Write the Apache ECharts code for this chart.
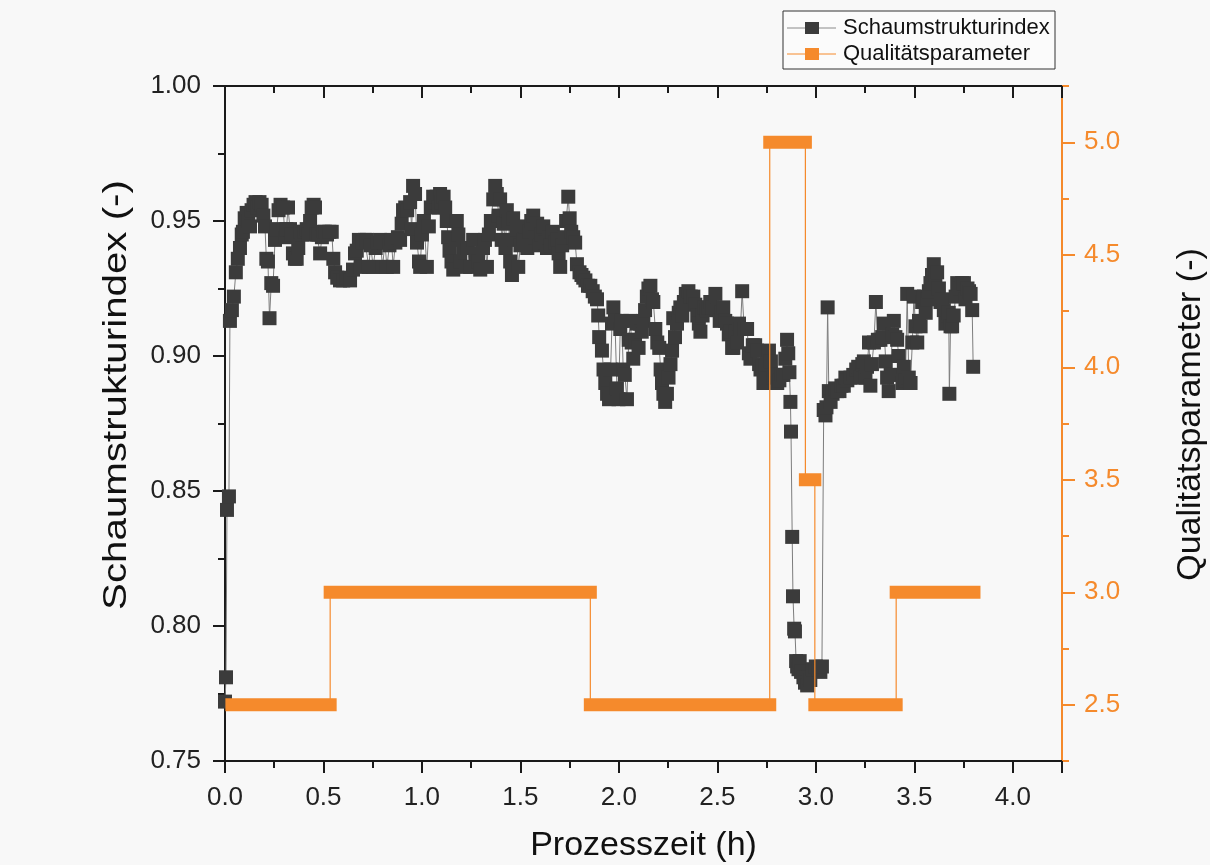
<!DOCTYPE html>
<html>
<head>
<meta charset="utf-8">
<script src="https://cdn.jsdelivr.net/npm/echarts@6/dist/echarts.min.js"></script>
<style>
  html, body { margin: 0; padding: 0; background: #f8f8f8; overflow: hidden; }
  #chart { width: 1210px; height: 865px; }
</style>
</head>
<body>
<div id="chart"></div>
<script>
// Prozesszeit (h) der Messpunkte
const timeH = [
  0.000, 0.005, 0.010, 0.020, 0.025, 0.035, 0.045, 0.055, 0.065, 0.076,
  0.085, 0.091, 0.100, 0.110, 0.118, 0.127, 0.135, 0.145, 0.155, 0.165,
  0.175, 0.186, 0.195, 0.203, 0.210, 0.218, 0.226, 0.235, 0.244, 0.254,
  0.262, 0.272, 0.282, 0.295, 0.305, 0.312, 0.320, 0.330, 0.338, 0.345,
  0.355, 0.364, 0.372, 0.381, 0.392, 0.403, 0.415, 0.425, 0.432, 0.440,
  0.450, 0.457, 0.466, 0.475, 0.483, 0.492, 0.500, 0.508, 0.518, 0.530,
  0.542, 0.550, 0.559, 0.570, 0.584, 0.600, 0.618, 0.635, 0.650, 0.660,
  0.669, 0.680, 0.690, 0.700, 0.710, 0.720, 0.730, 0.740, 0.752, 0.765,
  0.775, 0.788, 0.800, 0.812, 0.822, 0.835, 0.845, 0.854, 0.865, 0.878,
  0.889, 0.897, 0.904, 0.915, 0.925, 0.940, 0.948, 0.955, 0.965, 0.975,
  0.985, 0.991, 1.000, 1.010, 1.025, 1.035, 1.045, 1.057, 1.065, 1.075,
  1.085, 1.092, 1.100, 1.110, 1.118, 1.126, 1.133, 1.140, 1.150, 1.159,
  1.168, 1.177, 1.185, 1.195, 1.209, 1.220, 1.230, 1.245, 1.260, 1.272,
  1.285, 1.296, 1.310, 1.320, 1.330, 1.340, 1.350, 1.362, 1.372, 1.380,
  1.390, 1.397, 1.405, 1.415, 1.424, 1.431, 1.440, 1.448, 1.457, 1.463,
  1.472, 1.480, 1.489, 1.500, 1.514, 1.525, 1.535, 1.545, 1.555, 1.565,
  1.575, 1.585, 1.595, 1.605, 1.616, 1.625, 1.635, 1.645, 1.655, 1.665,
  1.676, 1.686, 1.694, 1.702, 1.712, 1.722, 1.732, 1.743, 1.750, 1.758,
  1.768, 1.778, 1.787, 1.800, 1.810, 1.819, 1.830, 1.843, 1.855, 1.867,
  1.878, 1.889, 1.895, 1.900, 1.914, 1.922, 1.931, 1.940, 1.950, 1.958,
  1.965, 1.972, 1.980, 1.990, 1.998, 2.007, 2.015, 2.022, 2.030, 2.041,
  2.050, 2.058, 2.065, 2.073, 2.082, 2.092, 2.100, 2.108, 2.116, 2.124,
  2.133, 2.142, 2.150, 2.160, 2.168, 2.175, 2.185, 2.195, 2.205, 2.212,
  2.219, 2.226, 2.235, 2.244, 2.252, 2.262, 2.270, 2.276, 2.285, 2.295,
  2.304, 2.312, 2.322, 2.330, 2.340, 2.353, 2.365, 2.378, 2.388, 2.398,
  2.406, 2.414, 2.425, 2.435, 2.446, 2.455, 2.464, 2.475, 2.490, 2.500,
  2.512, 2.522, 2.530, 2.540, 2.549, 2.558, 2.566, 2.575, 2.581, 2.590,
  2.600, 2.610, 2.617, 2.626, 2.636, 2.651, 2.660, 2.668, 2.680, 2.692,
  2.702, 2.712, 2.719, 2.728, 2.734, 2.745, 2.752, 2.762, 2.772, 2.785,
  2.795, 2.804, 2.815, 2.825, 2.835, 2.845, 2.854, 2.860, 2.866, 2.871,
  2.874, 2.880, 2.884, 2.890, 2.894, 2.900, 2.905, 2.912, 2.918, 2.925,
  2.937, 2.945, 2.956, 2.965, 2.972, 2.985, 3.000, 3.012, 3.023, 3.031,
  3.040, 3.049, 3.054, 3.060, 3.066, 3.075, 3.085, 3.098, 3.108, 3.120,
  3.130, 3.142, 3.150, 3.160, 3.176, 3.190, 3.205, 3.215, 3.227, 3.236,
  3.244, 3.252, 3.260, 3.270, 3.277, 3.285, 3.295, 3.305, 3.315, 3.328,
  3.337, 3.345, 3.355, 3.362, 3.370, 3.380, 3.388, 3.396, 3.404, 3.413,
  3.421, 3.430, 3.440, 3.447, 3.455, 3.464, 3.472, 3.481, 3.490, 3.498,
  3.506, 3.515, 3.524, 3.532, 3.540, 3.549, 3.558, 3.566, 3.574, 3.582,
  3.590, 3.599, 3.607, 3.616, 3.625, 3.633, 3.641, 3.650, 3.658, 3.667,
  3.675, 3.678, 3.684, 3.692, 3.700, 3.710, 3.718, 3.727, 3.735, 3.743,
  3.752, 3.760, 3.770, 3.778, 3.786, 3.794, 3.799
]

// Schaumstrukturindex (-)
const schaumIndex = [
  0.772, 0.781, 0.843, 0.848, 0.913, 0.917, 0.922, 0.931, 0.936, 0.940,
  0.945, 0.946, 0.951, 0.953, 0.950, 0.948, 0.954, 0.956, 0.957, 0.955,
  0.957, 0.956, 0.952, 0.948, 0.936, 0.935, 0.914, 0.927, 0.926, 0.943,
  0.947, 0.954, 0.956, 0.955, 0.944, 0.947, 0.955, 0.947, 0.945, 0.938,
  0.936, 0.936, 0.940, 0.946, 0.945, 0.946, 0.947, 0.945, 0.950, 0.955,
  0.956, 0.955, 0.945, 0.945, 0.938, 0.944, 0.946, 0.946, 0.945, 0.946,
  0.946, 0.936, 0.931, 0.929, 0.928, 0.928, 0.929, 0.928, 0.932, 0.938,
  0.939, 0.943, 0.933, 0.942, 0.943, 0.943, 0.933, 0.941, 0.933, 0.940,
  0.942, 0.943, 0.933, 0.942, 0.933, 0.941, 0.943, 0.933, 0.942, 0.944,
  0.943, 0.949, 0.954, 0.955, 0.954, 0.957, 0.947, 0.963, 0.960, 0.942,
  0.935, 0.933, 0.945, 0.950, 0.933, 0.948, 0.955, 0.959, 0.957, 0.959,
  0.955, 0.960, 0.957, 0.959, 0.955, 0.950, 0.944, 0.939, 0.935, 0.932,
  0.943, 0.950, 0.945, 0.935, 0.940, 0.933, 0.940, 0.933, 0.943, 0.938,
  0.935, 0.932, 0.940, 0.943, 0.933, 0.945, 0.950, 0.958, 0.963, 0.960,
  0.952, 0.958, 0.943, 0.949, 0.940, 0.954, 0.950, 0.935, 0.930, 0.951,
  0.943, 0.947, 0.933, 0.941, 0.943, 0.948, 0.940, 0.946, 0.950, 0.952,
  0.944, 0.949, 0.941, 0.945, 0.948, 0.942, 0.940, 0.944, 0.941, 0.946,
  0.942, 0.943, 0.938, 0.933, 0.941, 0.944, 0.950, 0.959, 0.951, 0.946,
  0.944, 0.942, 0.934, 0.931, 0.930, 0.929, 0.928, 0.926, 0.926, 0.924,
  0.922, 0.921, 0.915, 0.907, 0.902, 0.895, 0.890, 0.886, 0.884, 0.895,
  0.912, 0.918, 0.913, 0.888, 0.884, 0.910, 0.913, 0.895, 0.893, 0.884,
  0.906, 0.913, 0.905, 0.899, 0.906, 0.912, 0.903, 0.912, 0.909, 0.913,
  0.917, 0.922, 0.925, 0.926, 0.921, 0.920, 0.910, 0.905, 0.903, 0.895,
  0.890, 0.886, 0.883, 0.886, 0.892, 0.897, 0.902, 0.914, 0.907, 0.912,
  0.916, 0.918, 0.915, 0.920, 0.923, 0.924, 0.922, 0.922, 0.919, 0.915,
  0.912, 0.909, 0.915, 0.918, 0.917, 0.918, 0.920, 0.918, 0.923, 0.917,
  0.913, 0.916, 0.918, 0.913, 0.912, 0.908, 0.909, 0.903, 0.903, 0.909,
  0.905, 0.912, 0.910, 0.924, 0.910, 0.910, 0.901, 0.899, 0.904, 0.904,
  0.902, 0.897, 0.895, 0.896, 0.890, 0.896, 0.897, 0.902, 0.898, 0.892,
  0.893, 0.890, 0.891, 0.893, 0.893, 0.899, 0.906, 0.901, 0.894, 0.883,
  0.872, 0.833, 0.811, 0.799, 0.798, 0.787, 0.785, 0.784, 0.787, 0.783,
  0.781, 0.779, 0.778, 0.781, 0.780, 0.784, 0.785, 0.784, 0.783, 0.785,
  0.880, 0.878, 0.881, 0.918, 0.887, 0.883, 0.886, 0.888, 0.887, 0.887,
  0.889, 0.889, 0.892, 0.891, 0.892, 0.893, 0.895, 0.896, 0.892, 0.897,
  0.898, 0.892, 0.896, 0.905, 0.889, 0.897, 0.905, 0.920, 0.906, 0.906,
  0.907, 0.912, 0.898, 0.892, 0.887, 0.893, 0.908, 0.913, 0.907, 0.906,
  0.900, 0.893, 0.890, 0.896, 0.891, 0.923, 0.892, 0.890, 0.905, 0.922,
  0.911, 0.905, 0.913, 0.911, 0.920, 0.922, 0.916, 0.921, 0.924, 0.927,
  0.930, 0.934, 0.930, 0.931, 0.925, 0.920, 0.921, 0.917, 0.912, 0.915,
  0.916, 0.886, 0.911, 0.911, 0.915, 0.922, 0.927, 0.926, 0.925, 0.927,
  0.927, 0.921, 0.925, 0.924, 0.923, 0.917, 0.896
]

// Qualitätsparameter (-) als Stufen: Niveau, Beginn (h), Ende (h)
const qualLevel = [2.5, 3.0, 2.5, 5.0, 3.5, 2.5, 3.0]
const qualStart = [0.035, 0.534, 1.855, 2.766, 2.947, 2.995, 3.408]
const qualEnd = [0.534, 1.855, 2.766, 2.947, 2.995, 3.408, 3.803]

// Achsenbeschriftungen
const xTickLabels = [0, 0.5, 1.0, 1.5, 2.0, 2.5, 3.0, 3.5, 4.0]
const leftTickLabels = [0.75, 0.80, 0.85, 0.90, 0.95, 1.00]
const rightTickLabels = [2.5, 3.0, 3.5, 4.0, 4.5, 5.0]

const ORANGE = '#f58a2c'
const DARK = '#3b3b3b'
const AXIS = '#1a1a1a'
const FONT = 'Liberation Sans, Arial, sans-serif'

const chart = echarts.init(document.getElementById('chart'))

// Ecken der Stufenlinie (dünne Verbindungslinie)
const stepCorners = []
qualLevel.forEach((lvl, i) => {
  stepCorners.push([qualStart[i], lvl])
  stepCorners.push([qualEnd[i], lvl])
})

// dicke Balken je Stufe (im Original dicht gesetzte Symbole)
const stepBars = qualLevel.map((lvl, i) => ({
  type: 'line',
  yAxisIndex: 1,
  symbol: 'none',
  silent: true,
  z: 4,
  data: [[qualStart[i], lvl], [qualEnd[i], lvl]],
  lineStyle: { color: ORANGE, width: 13, cap: 'square' }
}))

const gridBox = { left: 225, right: 148, top: 86, bottom: 104, containLabel: false, outerBoundsMode: 'none' }

const option = {
  backgroundColor: '#f8f8f8',
  animation: false,
  grid: [gridBox, Object.assign({}, gridBox)],
  xAxis: [{
    type: 'value',
    gridIndex: 0,
    position: 'bottom',
    min: 0,
    max: 4.25,
    interval: 0.5,
    name: 'Prozesszeit (h)',
    nameLocation: 'middle',
    nameGap: 68,
    nameTextStyle: { fontFamily: FONT, fontSize: 34, color: '#111' },
    axisLine: { onZero: false, lineStyle: { color: AXIS, width: 2 } },
    axisTick: { inside: false, length: 12, lineStyle: { color: AXIS, width: 2 } },
    minorTick: { show: true, splitNumber: 2, length: 7, lineStyle: { color: AXIS, width: 2 } },
    splitLine: { show: false },
    axisLabel: {
      margin: 24,
      fontFamily: FONT,
      fontSize: 26,
      color: '#222',
      formatter: v => xTickLabels.some(t => Math.abs(t - v) < 1e-6) ? v.toFixed(1) : ''
    }
  }, {
    type: 'value',
    gridIndex: 0,
    position: 'top',
    min: 0,
    max: 4.25,
    interval: 0.5,
    axisLine: { onZero: false, lineStyle: { color: AXIS, width: 2 } },
    axisTick: { inside: true, length: 12, lineStyle: { color: AXIS, width: 2 } },
    minorTick: { show: true, splitNumber: 2, length: 7, lineStyle: { color: AXIS, width: 2 } },
    splitLine: { show: false },
    axisLabel: { show: false }
  }, {
    // Hilfsachse für das zweite (deckungsgleiche) Raster
    type: 'value',
    gridIndex: 1,
    min: 0,
    max: 4.25,
    show: false
  }],
  yAxis: [{
    type: 'value',
    gridIndex: 0,
    position: 'left',
    min: 0.75,
    max: 1.00,
    interval: 0.05,
    axisLine: { onZero: false, lineStyle: { color: AXIS, width: 2 } },
    axisTick: { length: 12, lineStyle: { color: AXIS, width: 2 } },
    minorTick: { show: true, splitNumber: 2, length: 7, lineStyle: { color: AXIS, width: 2 } },
    splitLine: { show: false },
    axisLabel: {
      margin: 24,
      fontFamily: FONT,
      fontSize: 26,
      color: '#222',
      formatter: v => leftTickLabels.some(t => Math.abs(t - v) < 1e-6) ? v.toFixed(2) : ''
    }
  }, {
    type: 'value',
    gridIndex: 0,
    position: 'right',
    min: 2.25,
    max: 5.25,
    name: 'Qualitätsparameter (-)',
    nameLocation: 'middle',
    nameGap: 112,
    nameTextStyle: { fontFamily: FONT, fontSize: 34, color: '#111', padding: [0, 0, 0, 18] },
    axisLine: { onZero: false, lineStyle: { color: ORANGE, width: 2 } },
    axisTick: { length: 13, customValues: rightTickLabels, lineStyle: { color: ORANGE, width: 2 } },
    splitLine: { show: false },
    axisLabel: {
      margin: 22,
      fontFamily: FONT,
      fontSize: 26,
      color: ORANGE,
      customValues: rightTickLabels,
      formatter: v => v.toFixed(1)
    }
  }, {
    // Nebenstriche der rechten Achse
    type: 'value',
    gridIndex: 1,
    position: 'right',
    min: 2.25,
    max: 5.25,
    interval: 0.25,
    axisLine: { show: false, onZero: false },
    axisTick: { length: 7, lineStyle: { color: ORANGE, width: 2 } },
    splitLine: { show: false },
    axisLabel: { show: false }
  }],
  series: [{
    name: 'Schaumstrukturindex',
    type: 'line',
    xAxisIndex: 0,
    yAxisIndex: 0,
    symbol: 'rect',
    symbolSize: 14,
    showAllSymbol: true,
    z: 3,
    data: timeH.map((t, i) => [t, schaumIndex[i]]),
    itemStyle: { color: DARK },
    lineStyle: { color: '#7d7d7d', width: 1 }
  }, {
    name: 'Qualitätsparameter',
    type: 'line',
    xAxisIndex: 0,
    yAxisIndex: 1,
    symbol: 'none',
    z: 4,
    data: stepCorners,
    lineStyle: { color: ORANGE, width: 1.2 }
  }].concat(stepBars),
  graphic: [
    // linke Achsenbeschriftung (im Original breit laufend)
    {
      type: 'text', x: 117, y: 395, rotation: Math.PI / 2, scaleX: 1.185,
      style: { text: 'Schaumstrukturindex (-)', fontFamily: FONT, fontSize: 34, fill: '#111', align: 'center', verticalAlign: 'middle' }
    },
    // Legende
    { type: 'rect', shape: { x: 783, y: 11, width: 272, height: 58 }, style: { fill: '#fbfbfb', stroke: '#333', lineWidth: 1 }, z: 10 },
    { type: 'line', shape: { x1: 787, y1: 28, x2: 836, y2: 28 }, style: { stroke: '#8a8a8a', lineWidth: 1 }, z: 11 },
    { type: 'rect', shape: { x: 805, y: 22, width: 14, height: 12 }, style: { fill: DARK }, z: 12 },
    { type: 'text', x: 843, y: 28, style: { text: 'Schaumstrukturindex', fontFamily: FONT, fontSize: 22, fill: '#111', verticalAlign: 'middle' }, z: 12 },
    { type: 'line', shape: { x1: 787, y1: 54, x2: 836, y2: 54 }, style: { stroke: ORANGE, lineWidth: 1 }, z: 11 },
    { type: 'rect', shape: { x: 805, y: 48, width: 14, height: 12 }, style: { fill: ORANGE }, z: 12 },
    { type: 'text', x: 843, y: 54, style: { text: 'Qualitätsparameter', fontFamily: FONT, fontSize: 22, fill: '#111', verticalAlign: 'middle' }, z: 12 }
  ]
}

chart.setOption(option)
</script>
</body>
</html>
